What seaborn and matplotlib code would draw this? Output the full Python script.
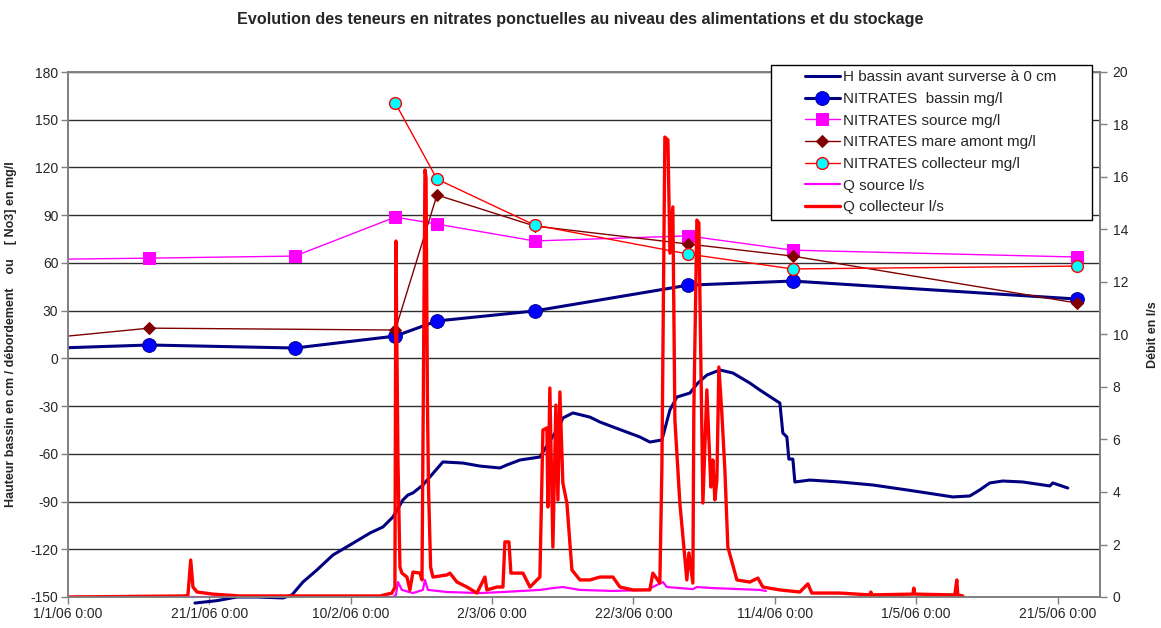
import numpy as np
import pandas as pd
import matplotlib
matplotlib.use('Agg')
import matplotlib.pyplot as plt
from matplotlib.ticker import FuncFormatter, MultipleLocator
from matplotlib.legend_handler import HandlerLine2D
import matplotlib.dates as mdates
import seaborn as sns

# Style first, then the font list (set_style resets font.family)
sns.set_style('white')
plt.rcParams['font.family'] = ['Liberation Sans', 'DejaVu Sans']
plt.rcParams['axes.unicode_minus'] = False

start = pd.Timestamp('2006-01-01')

# --- Nitrate samples (days since 1/1/06, mg/l) ---
bassin_days = [-15, 11.5, 32.1, 46.3, 52.2, 66.0, 87.7, 102.5, 142.7]
bassin_no3 = [4.5, 8.4, 6.5, 14.0, 23.5, 29.8, 46.0, 48.6, 37.3]

source_days = [-15, 11.5, 32.1, 46.3, 52.2, 66.0, 87.7, 102.5, 142.7]
source_no3 = [61.6, 63.0, 64.3, 88.8, 84.4, 73.8, 77.0, 68.0, 63.7]

mare_days = [-15, 11.5, 46.3, 52.2, 66.0, 87.7, 102.5, 142.7]
mare_no3 = [7.5, 19.0, 17.8, 102.7, 83.2, 71.9, 64.3, 34.8]

coll_days = [46.3, 52.2, 66.0, 87.7, 102.5, 142.7]
coll_no3 = [160.5, 112.7, 83.8, 65.6, 56.2, 58.0]

# --- Basin level (cm, left axis) ---
h_days = [17.96, 21.07, 23.9, 26.73, 30.41, 31.68, 33.24, 35.22, 37.48, 39.89,
          42.72, 44.55, 45.97, 47.38, 48.09, 48.8, 50.21, 53.04, 55.87, 58.27,
          61.1, 62.09, 63.93, 66.76, 69.59, 70.01, 71.43, 73.83, 75.25, 77.09,
          80.9, 82.32, 84.02, 85.15, 86.14, 87.98, 89.11, 90.38, 92.22, 94.06,
          96.46, 97.88, 100.71, 101.13, 101.7, 101.98, 102.55, 102.83, 104.95, 109.19,
          113.86, 118.67, 121.5, 125.18, 127.58, 128.99, 130.41, 132.25, 135.08, 138.9,
          139.32, 141.44]
h_level = [-153.8, -152.3, -150.0, -150.0, -150.6, -148.7, -140.6, -133.0, -123.6, -117.3,
           -109.8, -106.0, -99.7, -89.0, -85.9, -84.6, -79.6, -65.1, -65.8, -67.7,
           -68.9, -67.0, -63.9, -62.0, -41.9, -37.5, -34.3, -36.9, -40.0, -43.1,
           -49.4, -52.6, -51.3, -32.5, -24.3, -21.8, -15.5, -10.5, -7.3, -9.2,
           -15.5, -19.9, -28.1, -46.9, -49.4, -63.3, -63.3, -77.7, -76.5, -77.7,
           -79.6, -82.7, -84.6, -87.1, -86.5, -82.7, -78.3, -77.1, -77.7, -80.2,
           -78.3, -81.5]

# --- Flow at the collector (l/s, right axis) ---
qc_days = [0, 16.55, 16.97, 17.36, 17.68, 18.25, 20.51, 24.33, 44.13, 45.83,
           46.25, 46.39, 46.68, 46.96, 47.24, 47.95, 48.37, 48.8, 49.79, 50.08,
           50.5, 50.65, 50.85, 51.0, 51.3, 51.63, 53.61, 54.03, 55.02, 56.44,
           57.85, 58.98, 59.26, 60.68, 61.53, 61.81, 62.38, 62.66, 64.36, 65.35,
           66.76, 67.19, 67.75, 67.89, 68.17, 68.6, 69.02, 69.31, 69.59, 70.01,
           70.58, 71.29, 72.42, 73.83, 75.25, 77.09, 78.08, 79.92, 82.32, 82.74,
           83.73, 84.02, 84.44, 84.87, 85.15, 85.57, 85.86, 86.56, 87.55, 87.84,
           88.4, 88.54, 88.97, 89.25, 89.82, 90.38, 90.95, 91.23, 91.51, 91.8,
           92.08, 92.5, 92.93, 93.35, 94.63, 96.46, 97.6, 98.3, 100.71, 103.54,
           104.67, 105.23, 109.19, 113.44, 113.58, 113.72, 119.52, 119.66, 119.8, 125.46,
           125.74, 125.88, 126.59]
qc_flow = [0.0, 0.04, 0.08, 1.41, 0.38, 0.19, 0.11, 0.04, 0.04, 0.15,
           0.38, 13.56, 5.22, 1.14, 0.91, 0.76, 0.27, 0.95, 0.91, 0.65,
           16.27, 16.0, 7.5, 4.19, 1.14, 0.76, 0.84, 0.91, 0.57, 0.38,
           0.15, 0.76, 0.27, 0.38, 0.38, 2.1, 2.1, 0.91, 0.91, 0.38,
           0.76, 6.36, 6.44, 3.43, 7.96, 1.9, 7.31, 3.7, 7.81, 4.34,
           3.58, 1.03, 0.65, 0.65, 0.76, 0.76, 0.38, 0.27, 0.27, 0.91,
           0.53, 4.95, 17.52, 17.41, 13.1, 14.86, 6.74, 3.58, 0.65, 1.68,
           0.53, 7.12, 14.36, 14.25, 3.58, 7.89, 4.19, 5.22, 3.7, 4.46,
           8.76, 7.01, 4.84, 1.9, 0.65, 0.57, 0.72, 0.38, 0.27, 0.19,
           0.5, 0.15, 0.15, 0.08, 0.19, 0.08, 0.11, 0.34, 0.11, 0.08,
           0.65, 0.08, 0.04]

# --- Flow at the source (l/s, right axis) ---
qs_days = [0, 45.97, 46.39, 46.68, 47.24, 48.8, 50.21, 50.5, 50.92, 53.61,
           58.27, 61.53, 66.76, 68.6, 70.01, 72.42, 77.09, 81.9, 84.16, 84.72,
           88.4, 88.97, 91.23, 97.88, 98.73]
qs_flow = [0.0, 0.0, 0.08, 0.57, 0.27, 0.15, 0.27, 0.65, 0.27, 0.19,
           0.15, 0.19, 0.27, 0.34, 0.38, 0.27, 0.23, 0.27, 0.57, 0.38,
           0.3, 0.38, 0.34, 0.27, 0.23]

# Tick labels every 20 days
tick_dates = pd.date_range('2006-01-01', periods=8, freq='20D')


def to_dates(days):
    return start + pd.to_timedelta(np.array(days), unit='D')


def date_label(v, pos):
    d = mdates.num2date(v)
    return f"{d.day}/{d.month}/{d:%y} 0:00"


NAVY = '#000080'
BLUE = '#0000FF'
MAGENTA = '#FF00FF'
DARKRED = '#800000'
RED = '#FF0000'
CYAN = '#00FFFF'

fig = plt.figure(figsize=(11.61, 6.28), dpi=100)
ax = fig.add_axes([68 / 1161, 1 - 597 / 628, 1032 / 1161, 525 / 628])

# Left axis: basin level + nitrates
sns.lineplot(x=to_dates(h_days), y=h_level, ax=ax, color=NAVY, linewidth=2.2,
             label='H bassin avant surverse à 0 cm', clip_on=False)
sns.lineplot(x=to_dates(bassin_days), y=bassin_no3, ax=ax, color=NAVY, linewidth=2.2,
             marker='o', markersize=10, markerfacecolor=BLUE, markeredgecolor=NAVY,
             markeredgewidth=0.6, label='NITRATES  bassin mg/l')
sns.lineplot(x=to_dates(source_days), y=source_no3, ax=ax, color=MAGENTA, linewidth=1.0,
             marker='s', markersize=8.5, markerfacecolor=MAGENTA, markeredgecolor=MAGENTA,
             label='NITRATES source mg/l')
sns.lineplot(x=to_dates(mare_days), y=mare_no3, ax=ax, color=DARKRED, linewidth=1.0,
             marker='D', markersize=6.5, markerfacecolor=DARKRED, markeredgecolor=DARKRED,
             label='NITRATES mare amont mg/l')
sns.lineplot(x=to_dates(coll_days), y=coll_no3, ax=ax, color=RED, linewidth=1.0,
             marker='o', markersize=8.5, markerfacecolor=CYAN, markeredgecolor=RED,
             markeredgewidth=1.0, label='NITRATES collecteur mg/l')

# Right axis: flows
ax2 = ax.twinx()
sns.lineplot(x=to_dates(qs_days), y=qs_flow, ax=ax2, color=MAGENTA, linewidth=1.6,
             label='Q source l/s')
sns.lineplot(x=to_dates(qc_days), y=qc_flow, ax=ax2, color=RED, linewidth=2.4,
             label='Q collecteur l/s')

# Combined legend in the upper right (Excel style box)
h1, l1 = ax.get_legend_handles_labels()
h2, l2 = ax2.get_legend_handles_labels()
for a in (ax, ax2):
    if a.get_legend() is not None:
        a.get_legend().remove()
leg = fig.legend(h1 + h2, l1 + l2, loc='upper left', mode='expand',
                 bbox_to_anchor=(771 / 1161, 1 - 220 / 628, 321 / 1161, 155 / 628),
                 fontsize=11, frameon=True, fancybox=False, framealpha=1,
                 edgecolor='black', handlelength=4.15, handletextpad=0.2,
                 labelspacing=0.5, borderpad=0.35, borderaxespad=0,
                 handler_map={h: HandlerLine2D(xpad=1.85) for h in h1 + h2})
leg.get_frame().set_linewidth(1.0)

# Axes limits and ticks
ax.set_xlim(start, start + pd.Timedelta(days=146))
ax.set_ylim(-150, 180)
ax2.set_ylim(0, 20)
ax.yaxis.set_major_locator(MultipleLocator(30))
ax2.yaxis.set_major_locator(MultipleLocator(2))
ax.set_xticks(tick_dates)
ax.xaxis.set_major_formatter(FuncFormatter(date_label))

ax.grid(axis='y', color='#303030', linewidth=1.0)
ax.grid(axis='x', visible=False)
ax.tick_params(axis='both', direction='out', length=5, width=1, color='#808080',
               labelsize=10, pad=2, left=True, bottom=True)
ax2.tick_params(axis='y', direction='out', length=5, width=1, color='#808080',
                labelsize=10, pad=4, right=True)
for a in (ax, ax2):
    for s in a.spines.values():
        s.set_color('#808080')
        s.set_linewidth(1.2)

ax.set_xlabel('')
ax.set_ylabel('Hauteur bassin en cm / débordement    ou    [ No3] en mg/l',
              fontsize=9, fontweight='bold')
ax.yaxis.set_label_coords(-0.049, 0.5)
ax2.set_ylabel('Débit en l/s', fontsize=9, fontweight='bold')
ax2.yaxis.set_label_coords(1.046, 0.5)

fig.suptitle('Evolution des teneurs en nitrates ponctuelles au niveau des alimentations et du stockage',
             x=0.5, y=1 - 12 / 628, va='top', fontsize=11.6, fontweight='bold')

fig.savefig('out.png', dpi=100)
